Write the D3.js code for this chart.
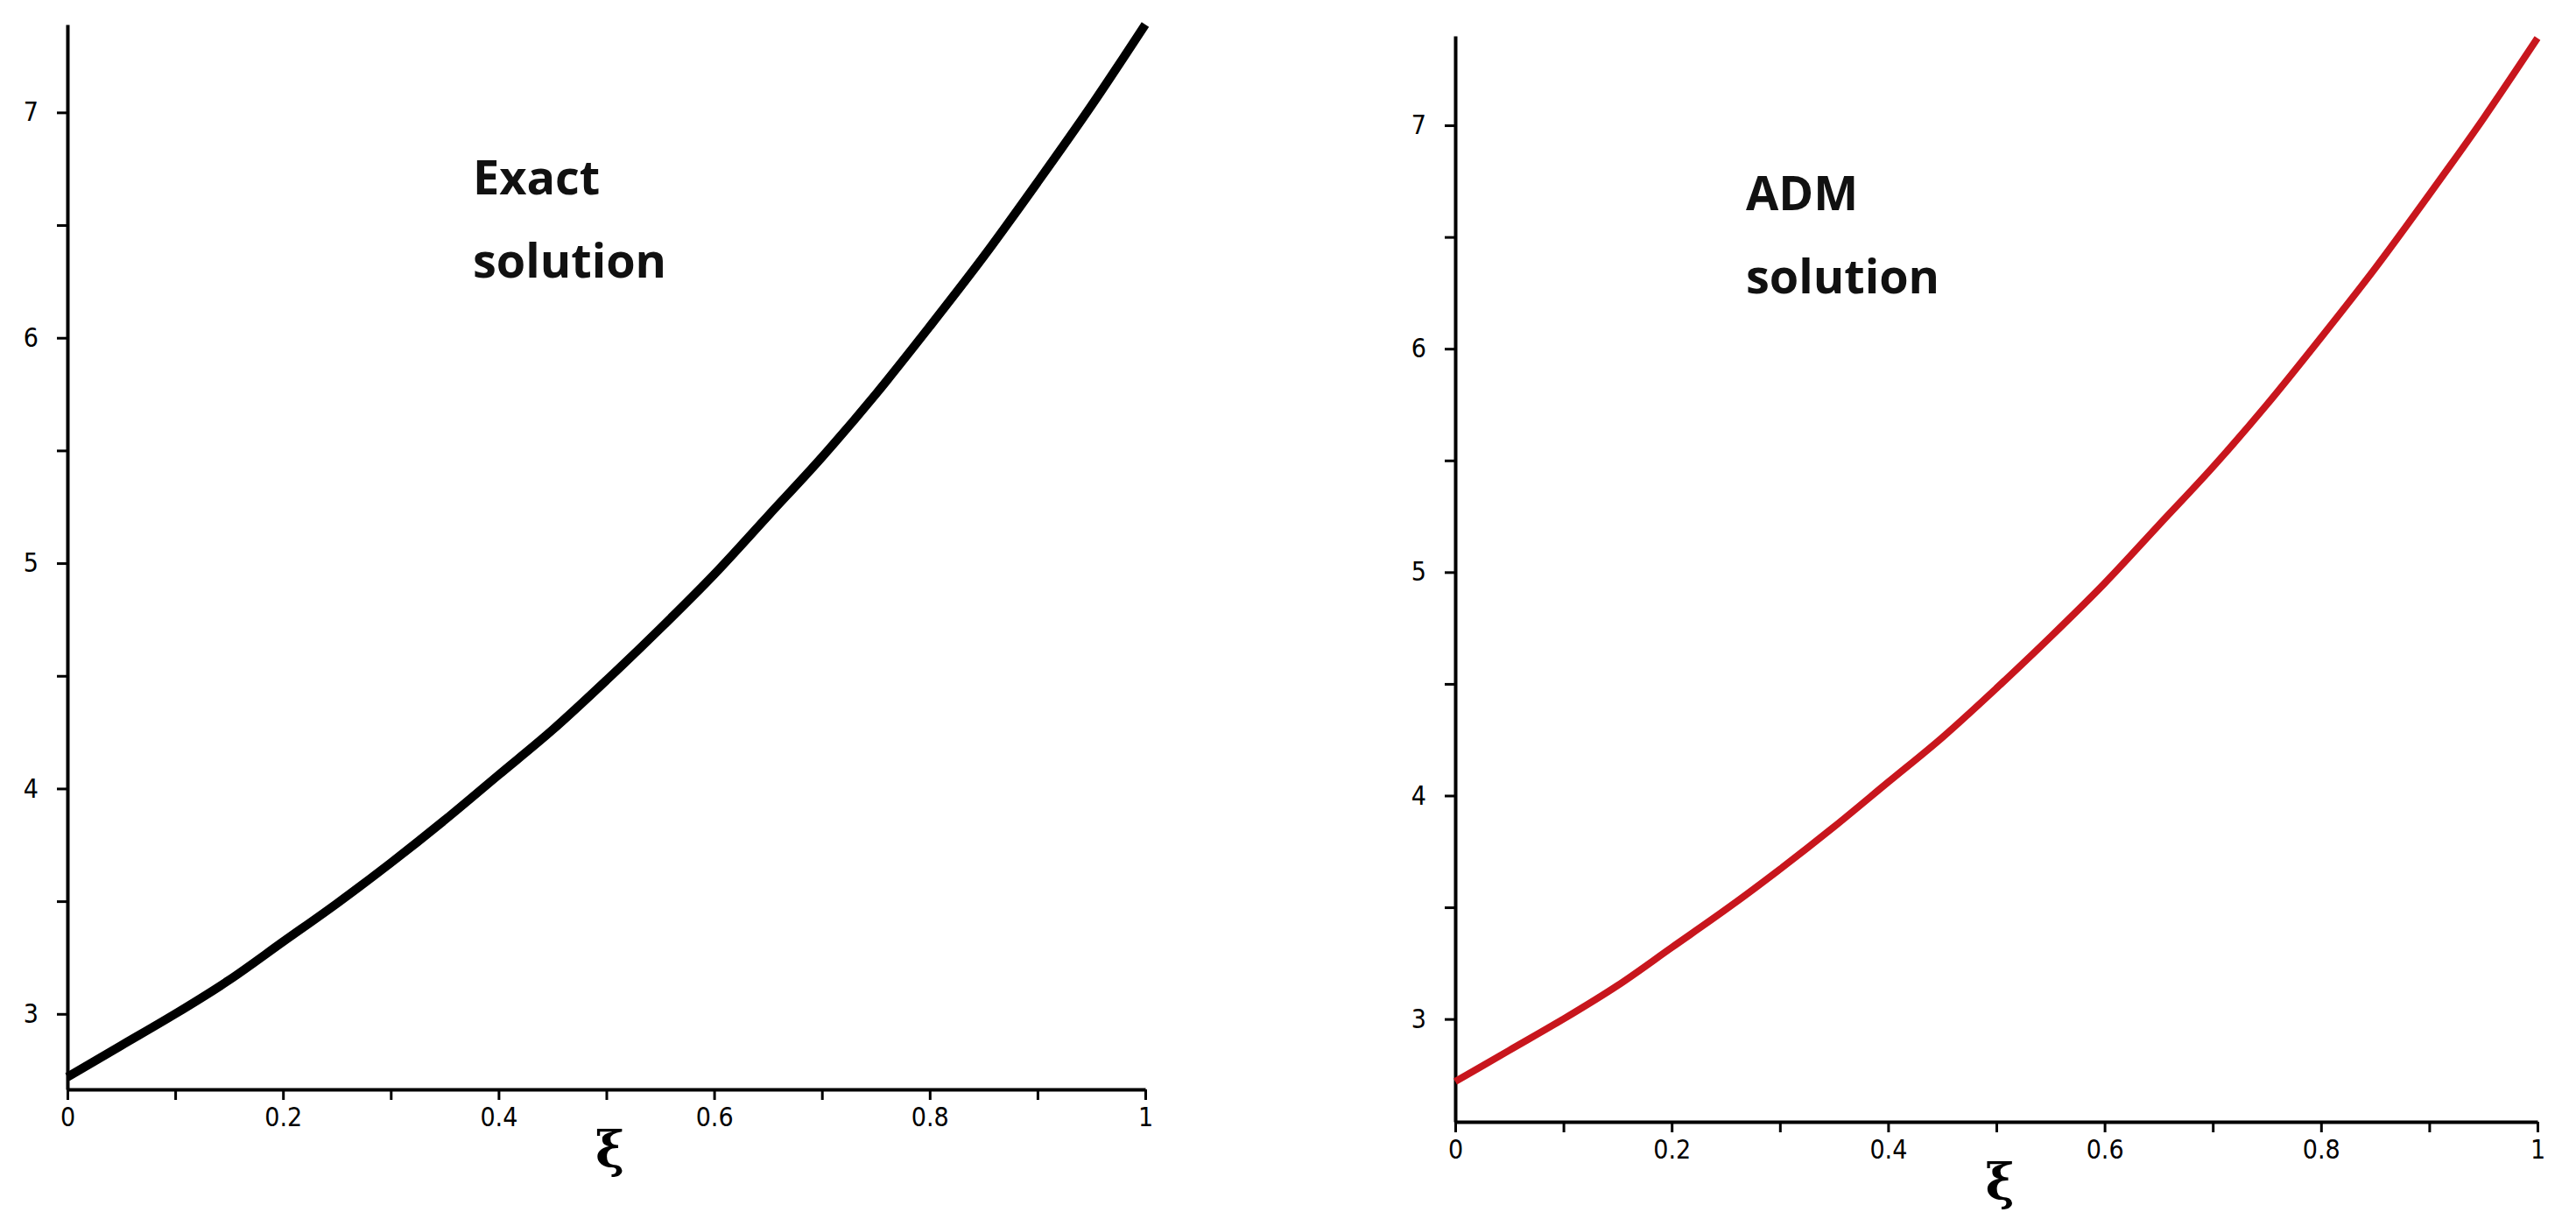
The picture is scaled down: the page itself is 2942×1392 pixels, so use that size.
<!DOCTYPE html>
<html>
<head>
<meta charset="utf-8">
<script src="https://cdn.jsdelivr.net/npm/d3@7"></script>
<style>
  body { margin: 0; background: #fff; }
  .tick text { font-family: 'Liberation Sans Narrow', 'DejaVu Sans Condensed', sans-serif; }
</style>
</head>
<body>
<svg id="chart" width="2942" height="1392"></svg>
<script>
// valores
const xiValues = [0, 0.05, 0.1, 0.15, 0.2, 0.25, 0.3, 0.35, 0.4, 0.45, 0.5, 0.55, 0.6, 0.65, 0.7, 0.75, 0.8, 0.85, 0.9, 0.95, 1]
const exactValues = [2.72, 2.86, 3.00, 3.15, 3.32, 3.49, 3.67, 3.86, 4.06, 4.26, 4.48, 4.71, 4.95, 5.21, 5.47, 5.75, 6.05, 6.36, 6.69, 7.03, 7.39]
const admValues = [2.72, 2.86, 3.00, 3.15, 3.32, 3.49, 3.67, 3.86, 4.06, 4.26, 4.48, 4.71, 4.95, 5.21, 5.47, 5.75, 6.05, 6.36, 6.69, 7.03, 7.39]
const yTickLabels = [3, 4, 5, 6, 7]
const xTickLabels = [0, 0.2, 0.4, 0.6, 0.8, 1]

const svg = d3.select('#chart')

function panel(cfg) {
    const x = d3.scaleLinear().domain([0, 1]).range([cfg.left, cfg.right])
    const y = d3.scaleLinear().domain(cfg.yDomain).range([cfg.bottom, cfg.top])
    const g = svg.append('g')

    // ejes
    const xAxis = g.append('g')
        .attr('transform', `translate(0,${cfg.bottom})`)
        .call(d3.axisBottom(x).tickValues(d3.range(0, 1.001, 0.1)).tickSize(12).tickSizeOuter(0)
            .tickFormat(d => xTickLabels.some(v => Math.abs(v - d) < 1e-6) ? d3.format('~g')(+d.toFixed(1)) : ''))
    xAxis.select('.domain').attr('stroke-width', 4)
    xAxis.selectAll('.tick line').attr('stroke-width', 3)
    xAxis.selectAll('.tick text').attr('font-size', 30).attr('dy', '0.9em')

    const yAxis = g.append('g')
        .attr('transform', `translate(${cfg.left},0)`)
        .call(d3.axisLeft(y).tickValues(d3.range(3, 7.01, 0.5)).tickSize(12).tickSizeOuter(0)
            .tickFormat(d => Number.isInteger(d) && yTickLabels.includes(d) ? d : ''))
    yAxis.select('.domain').attr('stroke-width', 4)
    yAxis.selectAll('.tick line').attr('stroke-width', 3)
    yAxis.selectAll('.tick text').attr('font-size', 30).attr('dx', '-0.6em')

    const line = d3.line().x((d, i) => x(xiValues[i])).y(d => y(d)).curve(d3.curveMonotoneX)
    g.append('path')
        .datum(cfg.values)
        .attr('d', line)
        .attr('fill', 'none')
        .attr('stroke', cfg.color)
        .attr('stroke-width', cfg.width)
        .attr('stroke-linejoin', 'round')

    const t = g.append('text')
        .attr('x', cfg.labelX)
        .attr('font-family', 'Open Sans, sans-serif')
        .attr('font-weight', 'bold')
        .attr('font-size', 54)
        .attr('fill', '#111')
    t.append('tspan').attr('x', cfg.labelX).attr('y', cfg.labelY).text(cfg.label[0])
    t.append('tspan').attr('x', cfg.labelX).attr('y', cfg.labelY + 95).text(cfg.label[1])

    g.append('text')
        .attr('x', x(0.5) + 4)
        .attr('y', cfg.bottom + 88)
        .attr('text-anchor', 'middle')
        .attr('font-family', 'DejaVu Serif, serif')
        .attr('font-weight', 'bold')
        .attr('font-size', 56)
        .text('ξ')
}

panel({ left: 77, right: 1308, top: 28, bottom: 1244, yDomain: [2.665, 7.39],
    values: exactValues, color: '#000', width: 10, label: ['Exact', 'solution'], labelX: 540, labelY: 222 })
panel({ left: 1662, right: 2898, top: 41, bottom: 1281, yDomain: [2.54, 7.4],
    values: admValues, color: '#c8161d', width: 8, label: ['ADM', 'solution'], labelX: 1994, labelY: 240 })
</script>
</body>
</html>
